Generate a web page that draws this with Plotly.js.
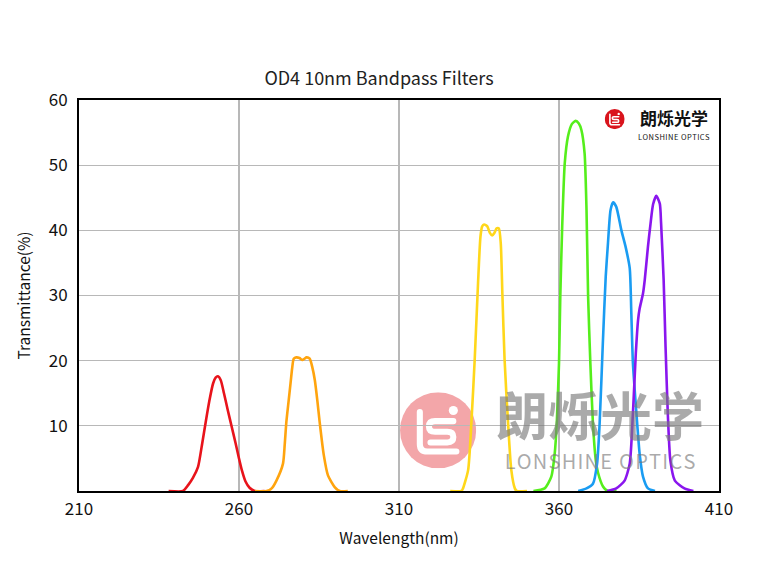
<!DOCTYPE html>
<html>
<head>
<meta charset="utf-8">
<script src="https://cdn.plot.ly/plotly-3.0.1.min.js"></script>
<style>
  html, body { margin: 0; padding: 0; background: #fff; }
  #chart { width: 758px; height: 561px; }
</style>
</head>
<body>
<div id="chart"></div>
<script>
"use strict";

// wavelength (nm) and transmittance (%), one pair per filter
var filterNames = ["254nm", "280nm", "340nm", "365nm", "380nm", "390nm"];
var filterColors = ["#e8131b", "#ffa40e", "#ffd71a", "#55ee1c", "#1a9cf2", "#8a16ee"];

var wl254 = [238, 242.5, 244.1, 245.6, 247.2, 248.5, 249.6, 250.8, 251.9, 252.7, 253.4, 254.3, 255.3, 256.5, 257.7, 258.9, 260.0, 261.0, 262.0, 263.3, 264.9, 268];
var tr254 = [0, 0, 0.9, 2.0, 3.7, 7.3, 10.6, 14.0, 16.5, 17.4, 17.6, 17.0, 15.0, 12.4, 9.9, 7.4, 5.0, 3.0, 1.5, 0.5, 0, 0];

var wl280 = [265, 268.6, 270.2, 271.7, 273.75, 274.3, 274.8, 275.5, 276.1, 276.6, 277.1, 277.9, 278.9, 279.8, 280.5, 281.1, 282.1, 282.9, 283.7, 284.5, 285.2, 286.5, 287.8, 289.9, 291.5, 294];
var tr280 = [0, 0, 0.4, 1.6, 4.2, 7.2, 10.6, 13.8, 16.5, 18.8, 20.3, 20.5, 20.4, 20.1, 20.3, 20.5, 20.3, 19.0, 17.0, 13.8, 10.6, 5.5, 2.4, 0.6, 0, 0];

var wl340 = [326, 329.5, 330.0, 331.6, 332.6, 333.65, 334.7, 335.45, 336.0, 336.6, 337.6, 338.4, 339.1, 339.8, 340.5, 341.2, 341.8, 342.3, 343.0, 344.1, 345.1, 346.2, 346.8, 350];
var tr340 = [0, 0, 0.4, 3.2, 10.3, 20.1, 31.9, 39.0, 40.6, 40.9, 40.6, 39.6, 39.2, 39.6, 40.3, 40.3, 38.0, 30.3, 20.1, 10.3, 3.2, 0.4, 0, 0];

var wl365 = [352, 355.5, 357.6, 358.65, 359.3, 360.0, 360.4, 361.0, 361.8, 362.8, 364.0, 365.2, 366.2, 367.0, 368.0, 368.6, 369.1, 369.8, 370.6, 371.5, 372.2, 373.75, 375.2, 378];
var tr365 = [0, 0.4, 2.2, 5.7, 10.4, 19.6, 29.8, 40.6, 50.3, 54.4, 56.3, 56.8, 56.4, 55.4, 51.8, 43.1, 29.8, 19.6, 10.4, 4.7, 2.8, 0.7, 0, 0];

var wl380 = [366, 368.6, 370.6, 371.9, 372.7, 373.7, 374.6, 375.3, 376.1, 376.9, 377.9, 379.5, 380.8, 382.1, 382.6, 383.1, 384.2, 385.2, 386.25, 387.8, 390];
var tr380 = [0, 0.4, 1.1, 4.2, 10.4, 22.7, 32.9, 38.0, 43.1, 44.3, 43.6, 40.0, 37.5, 34.2, 27.3, 19.6, 11.9, 5.7, 2.2, 0.4, 0];

var wl390 = [375, 377.9, 380.5, 382.1, 383.1, 384.0, 384.7, 385.2, 386.25, 386.8, 387.8, 388.6, 389.4, 390.4, 391.5, 391.9, 392.7, 393.3, 394.0, 394.8, 396.2, 399.2, 402];
var tr390 = [0, 0.4, 1.6, 4.2, 11.9, 21.1, 26.2, 28.0, 30.3, 32.4, 37.5, 41.0, 44.0, 45.3, 44.1, 41.1, 32.4, 22.1, 11.9, 4.7, 1.6, 0.4, 0];

var allWl = [wl254, wl280, wl340, wl365, wl380, wl390];
var allTr = [tr254, tr280, tr340, tr365, tr380, tr390];

var xTicks = [210, 260, 310, 360, 410];
var yTicks = [10, 20, 30, 40, 50, 60];

var FONT = "Noto Sans CJK SC, Noto Sans, sans-serif";

// spread the letters a little (plotly text has no letter-spacing)
function spaced(str, sep) {
    return str.split("").join(sep);
}

// logo drawn as a small svg, used twice (watermark + corner badge)
function logoUri(fill) {
    var svg = "<svg xmlns='http://www.w3.org/2000/svg' viewBox='0 0 100 100'>" +
        "<circle cx='50' cy='50' r='50' fill='" + fill + "'/>" +
        "<g fill='none' stroke='#fff' stroke-width='8' stroke-linecap='round' stroke-linejoin='round'>" +
        "<path d='M26,26 L26,68 Q26,78 36,78 L74,78'/>" +
        "<path d='M70,38 L46,38 Q38,38 38,45 Q38,52 46,52 L62,52 Q70,52 70,59 Q70,66 62,66 L40,66'/>" +
        "</g><circle cx='70' cy='24' r='6' fill='#fff'/></svg>";
    return "data:image/svg+xml;base64," + btoa(svg);
}

var data = [];
for (var i = 0; i < allWl.length; i++) {
    data.push({
        x: allWl[i],
        y: allTr[i],
        name: filterNames[i],
        type: "scatter",
        mode: "lines",
        line: {color: filterColors[i], width: 2.6, shape: "spline", smoothing: 0.6},
        hoverinfo: "x+y"
    });
}

// watermark: both lines in one text block so the line gap stays tight
var watermarkText = "<span style='font-size:52px'><b>朗烁光学</b></span><br>" +
    "<span style='font-size:20px'>" + spaced("LONSHINE OPTICS", "\u200A") + "</span>";

var layout = {
    width: 758,
    height: 561,
    margin: {l: 79, r: 39, t: 100, b: 70, pad: 0},
    paper_bgcolor: "#fff",
    plot_bgcolor: "#fff",
    showlegend: false,
    font: {family: FONT, color: "#111", size: 16},
    title: {
        text: "OD4 10nm Bandpass Filters",
        font: {family: FONT, size: 18, color: "#222"},
        xref: "container", x: 0.5, xanchor: "center",
        yref: "container", y: 1 - 79 / 561, yanchor: "middle"
    },
    xaxis: {
        range: [210, 410],
        tickvals: xTicks,
        ticks: "outside", ticklen: 2, tickcolor: "rgba(0,0,0,0)",
        tickfont: {family: FONT, size: 17, color: "#111"},
        showgrid: true, gridcolor: "#b8b8b8", gridwidth: 1.2,
        zeroline: false,
        showline: true, linecolor: "#000", linewidth: 2, mirror: true,
        title: {text: "Wavelength(nm)", font: {family: FONT, size: 15.5, color: "#111"}, standoff: 14}
    },
    yaxis: {
        range: [0, 60],
        tickvals: yTicks,
        ticks: "outside", ticklen: 6, tickcolor: "rgba(0,0,0,0)",
        tickfont: {family: FONT, size: 17, color: "#111"},
        showgrid: true, gridcolor: "#b8b8b8", gridwidth: 1.2,
        zeroline: false,
        showline: true, linecolor: "#000", linewidth: 2, mirror: true,
        title: {text: "Transmittance(%)", font: {family: FONT, size: 15.5, color: "#111"}, standoff: 14}
    },
    images: [
        {source: logoUri("#f3a6a9"), xref: "paper", yref: "paper",
         x: 0.5016, y: 0.2526, sizex: 0.119, sizey: 0.1945,
         xanchor: "left", yanchor: "top", sizing: "stretch", layer: "below"},
        {source: logoUri("#d9141c"), xref: "paper", yref: "paper",
         x: 0.8214, y: 0.9767, sizex: 0.03125, sizey: 0.0512,
         xanchor: "left", yanchor: "top", sizing: "stretch", layer: "above"}
    ],
    annotations: [
        {text: watermarkText, xref: "paper", yref: "paper", x: 0.8136, y: 0.167,
         xanchor: "center", yanchor: "middle", showarrow: false,
         font: {family: FONT, size: 25.5, color: "rgba(120,120,120,0.63)"}},
        {text: "<b>朗烁光学</b>", xref: "paper", yref: "paper", x: 0.9297, y: 0.954,
         xanchor: "center", yanchor: "middle", showarrow: false,
         font: {family: FONT, size: 17, color: "#111"}},
        {text: spaced("LONSHINE OPTICS", "\u200A"), xref: "paper", yref: "paper", x: 0.9297, y: 0.906,
         xanchor: "center", yanchor: "middle", showarrow: false,
         font: {family: FONT, size: 7.5, color: "#111"}}
    ]
};

Plotly.newPlot("chart", data, layout, {displayModeBar: false, staticPlot: true});
</script>
</body>
</html>
